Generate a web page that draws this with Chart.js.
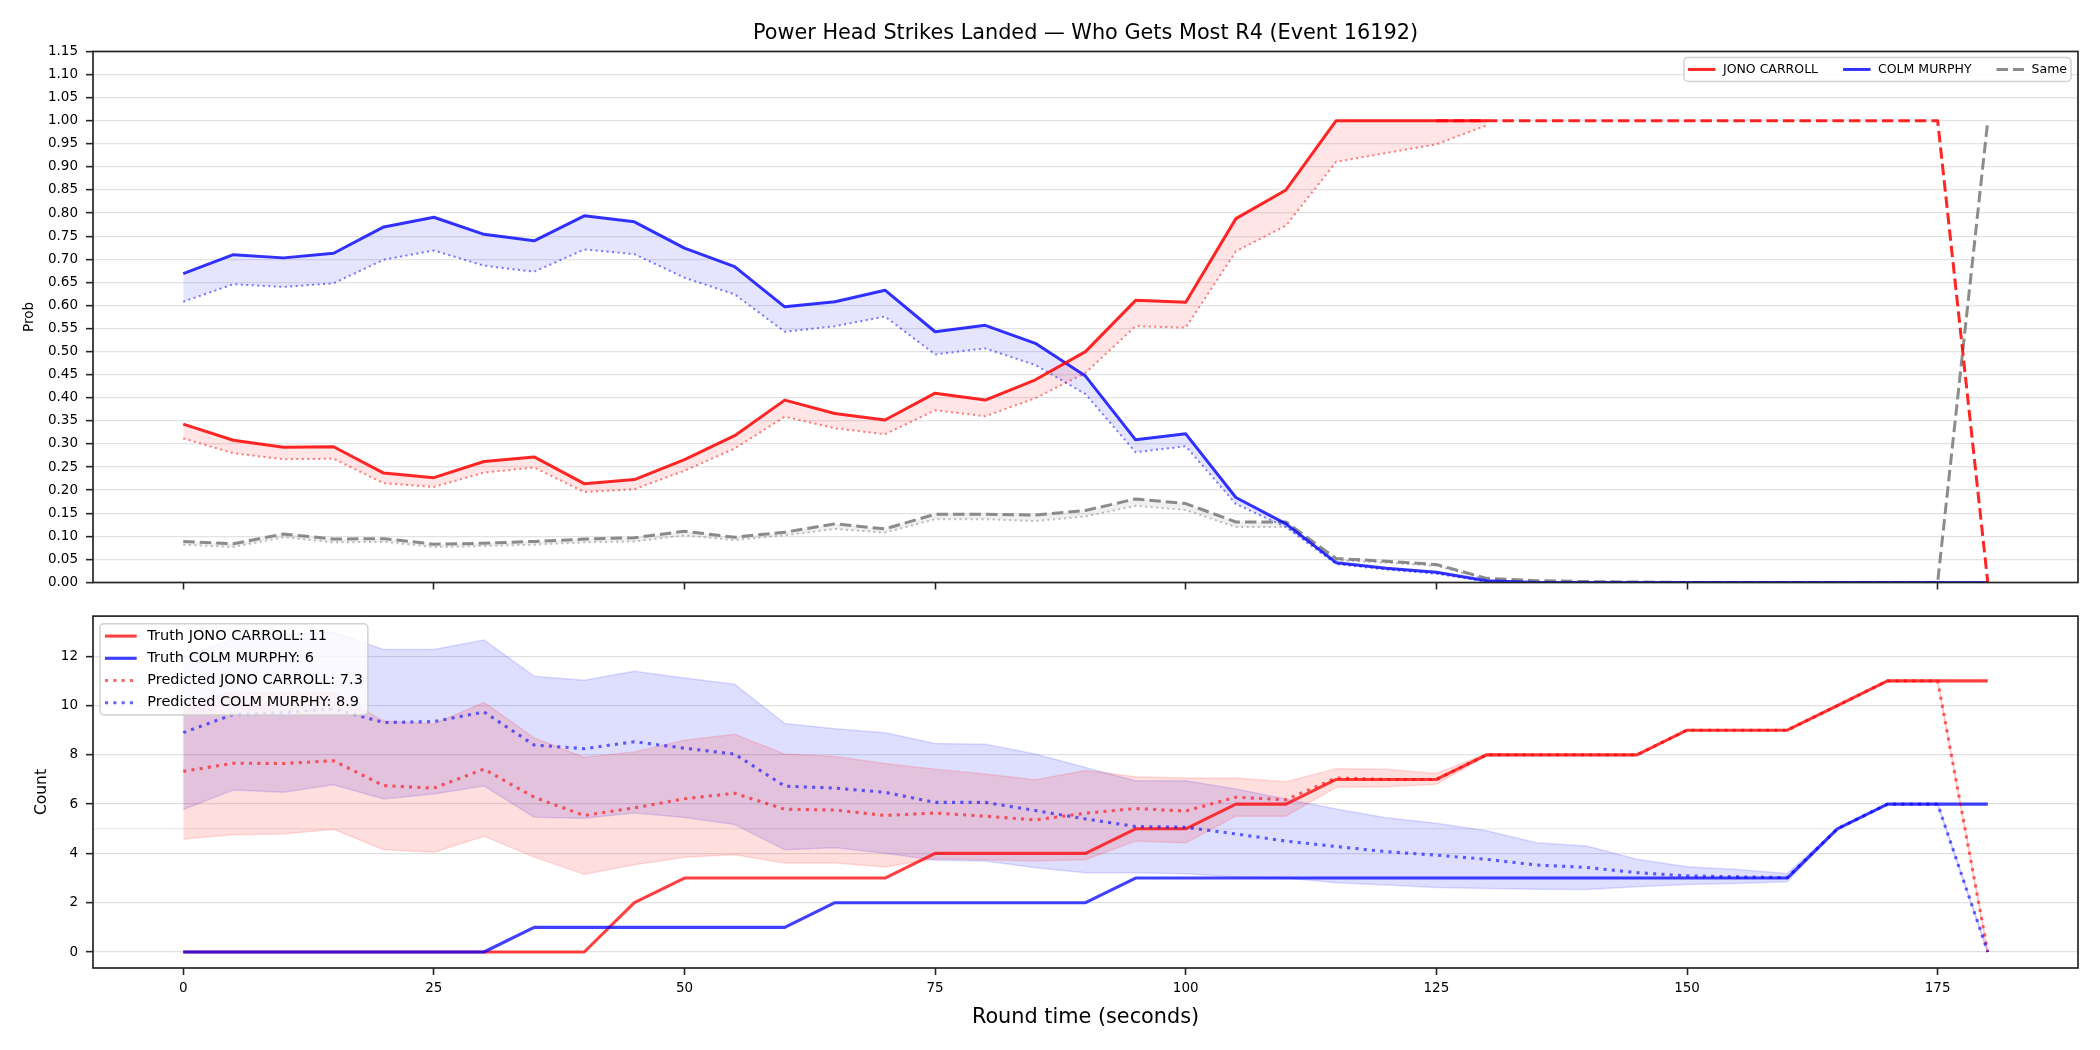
<!DOCTYPE html>
<html>
<head>
<meta charset="utf-8">
<script src="https://cdn.jsdelivr.net/npm/chart.js@4.4.1/dist/chart.umd.min.js"></script>
<style>
html,body{margin:0;padding:0;background:#fff;}
#wrap{position:relative;width:2100px;height:1050px;}
#top{position:absolute;left:0;top:0;}
#bot{position:absolute;left:0;top:600px;}
</style>
</head>
<body>
<div id="wrap">
<canvas id="top" width="2100" height="600"></canvas>
<canvas id="bot" width="2100" height="450"></canvas>
</div>
<script>
// ---- data ----
const times=[0,5,10,15,20,25,30,35,40,45,50,55,60,65,70,75,80,85,90,95,100,105,110,115,120,125,130,135,140,145,150,155,160,165,170,175,180];
const timeTicks=[0,25,50,75,100,125,150,175];
const players=['JONO CARROLL','COLM MURPHY'];

// top panel: probability of getting most R4 strikes
const probRed=[0.343,0.308,0.293,0.294,0.237,0.227,0.262,0.272,0.214,0.223,0.266,0.318,0.395,0.366,0.352,0.410,0.395,0.439,0.500,0.611,0.607,0.788,0.850,1.000,1.000,1.000,1.000];
const probRedLow=[0.312,0.280,0.267,0.268,0.215,0.207,0.238,0.249,0.196,0.202,0.242,0.290,0.359,0.334,0.321,0.373,0.360,0.399,0.454,0.555,0.552,0.717,0.773,0.911,0.930,0.949,0.990];
const lateFrom=125;
const probRedLate=[1,1,1,1,1,1,1,1,1,1,1,0];
const probBlue=[0.669,0.710,0.703,0.713,0.770,0.791,0.754,0.740,0.794,0.781,0.724,0.684,0.597,0.608,0.633,0.543,0.557,0.518,0.447,0.309,0.322,0.184,0.127,0.043,0.031,0.022,0.004,0,0,0,0,0,0,0,0,0,0];
const probBlueLow=[0.608,0.646,0.640,0.648,0.699,0.719,0.686,0.673,0.721,0.711,0.660,0.624,0.543,0.555,0.576,0.494,0.507,0.471,0.408,0.282,0.295,0.170,0.120,0.040,0.028,0.019,0.002,0,0,0,0,0,0,0,0,0,0];
const probSame=[0.089,0.084,0.105,0.094,0.095,0.083,0.085,0.089,0.094,0.097,0.111,0.098,0.109,0.127,0.116,0.148,0.148,0.146,0.156,0.181,0.171,0.131,0.131,0.052,0.046,0.039,0.009,0.004,0.002,0.001,0,0,0,0,0,0,1.0];
const probSameLow=[0.082,0.077,0.098,0.087,0.088,0.077,0.079,0.082,0.087,0.089,0.102,0.092,0.102,0.116,0.108,0.137,0.137,0.133,0.143,0.166,0.157,0.120,0.120,0.048,0.043,0.036,0.007];
const probTicks=[0,0.05,0.1,0.15,0.2,0.25,0.3,0.35,0.4,0.45,0.5,0.55,0.6,0.65,0.7,0.75,0.8,0.85,0.9,0.95,1,1.05,1.1,1.15];

// bottom panel: strike counts
const truthRed=[0,0,0,0,0,0,0,0,0,2,3,3,3,3,3,4,4,4,4,5,5,6,6,7,7,7,8,8,8,8,9,9,9,10,11,11,11];
const truthBlue=[0,0,0,0,0,0,0,1,1,1,1,1,1,2,2,2,2,2,2,3,3,3,3,3,3,3,3,3,3,3,3,3,3,5,6,6,6];
const predRed=[7.33,7.66,7.65,7.76,6.75,6.65,7.42,6.28,5.54,5.85,6.22,6.44,5.79,5.76,5.54,5.64,5.51,5.36,5.63,5.82,5.72,6.28,6.18,7.06,7.0,7.0,8,8,8,8,9,9,9,10,11,11,0];
const predBlue=[8.90,9.64,9.71,9.87,9.31,9.35,9.74,8.40,8.25,8.53,8.27,8.03,6.73,6.65,6.48,6.07,6.07,5.74,5.40,5.09,5.06,4.79,4.50,4.28,4.07,3.93,3.76,3.53,3.43,3.22,3.09,3.05,3.02,5,6,6,0];
const predRedLow=[4.59,4.76,4.79,4.98,4.15,4.05,4.70,3.85,3.15,3.54,3.84,3.95,3.61,3.61,3.45,3.78,3.74,3.69,3.74,4.50,4.42,5.51,5.51,6.68,6.70,6.81,7.95,8,8,8,9,9,9,10,11,11,0];
const predRedHigh=[10.05,10.57,10.50,10.52,9.37,9.25,10.13,8.69,7.90,8.12,8.59,8.84,8.03,7.93,7.65,7.42,7.22,6.99,7.36,7.11,7.06,7.06,6.91,7.44,7.42,7.24,8.05,8,8,8,9,9,9,10,11,11,0];
const predBlueLow=[5.78,6.57,6.48,6.79,6.21,6.41,6.74,5.47,5.43,5.64,5.46,5.17,4.15,4.23,4.01,3.72,3.69,3.42,3.22,3.22,3.18,3.04,3.00,2.81,2.72,2.62,2.58,2.55,2.54,2.65,2.74,2.78,2.85,5,6,6,0];
const predBlueHigh=[11.96,12.70,12.88,12.98,12.27,12.27,12.66,11.19,11.03,11.39,11.12,10.86,9.27,9.06,8.90,8.46,8.43,8.03,7.49,6.95,6.95,6.61,6.21,5.80,5.45,5.22,4.92,4.43,4.30,3.76,3.46,3.35,3.19,5,6,6,0];
const countTicks=[0,2,4,6,8,10,12];
const countRefLine=5;

// ---- helpers ----
const FONT='"DejaVu Sans", sans-serif';
Chart.defaults.font.family=FONT;
Chart.defaults.color='#000';

const pts=(arr,from=0)=>{
    const k=times.indexOf(from);
    return arr.map((v,i)=>({x:times[k+i],y:v}));
};
const xPad=(times[times.length-1]-times[0])*0.05;

const line=(data,color,width,dash,order,extra)=>Object.assign({
    data:data,borderColor:color,borderWidth:width,borderDash:dash||[],
    pointRadius:0,tension:0,fill:false,order:order,borderJoinStyle:'round'
},extra||{});

const mplExtras={
    id:'mplExtras',
    beforeDatasetsDraw(chart,args,opts){
        if(opts.refLine==null) return;
        const {ctx,chartArea:a,scales}=chart;
        const py=scales.y.getPixelForValue(opts.refLine);
        ctx.save();
        ctx.strokeStyle='rgba(0,0,0,0.07)';
        ctx.lineWidth=1.3;
        ctx.beginPath();ctx.moveTo(a.left,py);ctx.lineTo(a.right,py);ctx.stroke();
        ctx.restore();
    },
    afterDatasetsDraw(chart){
        const {ctx,chartArea:a}=chart;
        ctx.save();
        ctx.strokeStyle='#262626';
        ctx.lineWidth=1.7;
        ctx.strokeRect(a.left,a.top,a.right-a.left,a.bottom-a.top);
        ctx.restore();
    },
    afterDraw(chart,args,opts){
        const lg=opts.legend;
        if(!lg) return;
        const {ctx,chartArea:a}=chart;
        ctx.save();
        ctx.font=`${lg.size}px ${FONT}`;
        const tw=lg.items.map(it=>ctx.measureText(it.text).width);
        let bw,bh;
        if(lg.row==null){
            bw=lg.padX*2+lg.items.length*(lg.handle+lg.gap)+tw.reduce((s,v)=>s+v,0)+lg.colGap*(lg.items.length-1);
            bh=lg.padY*2;
        }else{
            bw=lg.padX*2+lg.handle+lg.gap+Math.max(...tw);
            bh=lg.padY*2+lg.row*(lg.items.length-1);
        }
        const bx=lg.corner==='ur'?a.right-lg.inset-bw:a.left+lg.inset;
        const by=a.top+lg.insetY;
        ctx.beginPath();
        ctx.roundRect(bx,by,bw,bh,4);
        ctx.fillStyle='rgba(255,255,255,0.8)';ctx.fill();
        ctx.strokeStyle='rgba(204,204,204,0.9)';ctx.lineWidth=1.5;ctx.stroke();
        let x=bx+lg.padX,y=by+lg.padY;
        lg.items.forEach((it,i)=>{
            const ds=chart.data.datasets[it.ds];
            ctx.strokeStyle=ds.borderColor;ctx.lineWidth=ds.borderWidth;
            ctx.setLineDash(ds.borderDash||[]);
            ctx.beginPath();ctx.moveTo(x,y);ctx.lineTo(x+lg.handle,y);ctx.stroke();
            ctx.setLineDash([]);
            ctx.fillStyle='#000';ctx.textAlign='left';ctx.textBaseline='middle';
            ctx.fillText(it.text,x+lg.handle+lg.gap,y);
            if(lg.row==null) x+=lg.handle+lg.gap+tw[i]+lg.colGap; else y+=lg.row;
        });
        ctx.restore();
    }
};

const xAxis=(showLabels,h,title)=>({
    type:'linear',min:times[0]-xPad,max:times[times.length-1]+xPad,
    afterBuildTicks:s=>{s.ticks=timeTicks.map(v=>({value:v}));},
    afterFit:s=>{s.height=h;},
    grid:{drawOnChartArea:false,drawTicks:true,tickLength:7,tickColor:'#262626',tickWidth:1.6},
    border:{display:false},
    ticks:{display:showLabels,autoSkip:false,maxRotation:0,padding:5,font:{size:13.5},color:'#000'},
    title:title||{display:false}
});

// ---- top chart ----
const topDs=[
    line(pts(probRed),'rgba(255,0,0,0.85)',3,null,1),
    line(pts(probRedLate,lateFrom),'rgba(255,0,0,0.85)',3,[11.5,5],1),
    line(pts(probBlue),'rgba(0,0,255,0.8)',3,null,1),
    line(pts(probSame),'rgba(128,128,128,0.9)',3,[11.5,5],1),
    line(pts(probRedLow),'rgba(255,0,0,0.5)',2,[2.1,3.4],2,{fill:{target:0},backgroundColor:'rgba(255,0,0,0.1)'}),
    line(pts(probBlueLow),'rgba(0,0,255,0.5)',2,[2.1,3.4],2,{fill:{target:2},backgroundColor:'rgba(0,0,255,0.1)'}),
    line(pts(probSameLow),'rgba(128,128,128,0.5)',2,[2.1,3.4],2,{fill:{target:3},backgroundColor:'rgba(128,128,128,0.12)'})
];

new Chart(document.getElementById('top'),{
    type:'line',
    data:{datasets:topDs},
    plugins:[mplExtras],
    options:{
        responsive:false,animation:false,
        layout:{padding:{left:0,right:22,top:0,bottom:0}},
        scales:{
            x:xAxis(false,17.5),
            y:{
                type:'linear',min:0,max:1.15,
                afterBuildTicks:s=>{s.ticks=probTicks.map(v=>({value:v}));},
                afterFit:s=>{s.width=93;},
                grid:{color:'rgba(0,0,0,0.11)',lineWidth:1.3,tickLength:7,tickColor:'#262626',tickWidth:1.6},
                border:{display:false},
                ticks:{autoSkip:false,padding:8,font:{size:13.5},color:'#000',callback:v=>Number(v).toFixed(2)},
                title:{display:true,text:'Prob',font:{size:13.5},color:'#000',padding:{top:21,bottom:0}}
            }
        },
        plugins:{
            legend:{display:false},
            tooltip:{enabled:false},
            title:{display:true,fullSize:false,text:'Power Head Strikes Landed \u2014 Who Gets Most R4 (Event 16192)',
                font:{size:20.8,weight:'normal'},color:'#000',padding:{top:21,bottom:5.5}},
            mplExtras:{
                legend:{corner:'ur',inset:7,insetY:6,size:12.5,padX:4,padY:12,handle:27.5,gap:7.5,colGap:25,
                    items:[{text:players[0],ds:0},{text:players[1],ds:2},{text:'Same',ds:3}]}
            }
        }
    }
});

// ---- bottom chart ----
const allCounts=[...truthRed,...truthBlue,...predRed,...predBlue,...predRedLow,...predRedHigh,...predBlueLow,...predBlueHigh];
const cMin=Math.min(...allCounts),cMax=Math.max(...allCounts);
const cPad=(cMax-cMin)*0.05;
const fmt=v=>String(Math.round(v*10)/10);

const botDs=[
    line(pts(truthRed),'rgba(255,0,0,0.75)',3.1,null,4),
    line(pts(truthBlue),'rgba(0,0,255,0.75)',3.1,null,3),
    line(pts(predRed),'rgba(255,0,0,0.6)',3.1,[3.1,5.2],2),
    line(pts(predBlue),'rgba(0,0,255,0.6)',3.1,[3.1,5.2],1),
    line(pts(predRedLow),'rgba(255,0,0,0.13)',1.5,null,5),
    line(pts(predRedHigh),'rgba(255,0,0,0.13)',1.5,null,5,{fill:{target:4},backgroundColor:'rgba(255,0,0,0.13)'}),
    line(pts(predBlueLow),'rgba(0,0,255,0.13)',1.5,null,6),
    line(pts(predBlueHigh),'rgba(0,0,255,0.13)',1.5,null,6,{fill:{target:6},backgroundColor:'rgba(0,0,255,0.13)'})
];

new Chart(document.getElementById('bot'),{
    type:'line',
    data:{datasets:botDs},
    plugins:[mplExtras],
    options:{
        responsive:false,animation:false,
        layout:{padding:{left:0,right:22,top:13.5,bottom:0}},
        scales:{
            x:xAxis(true,82,{display:true,text:'Round time (seconds)',font:{size:20.8},color:'#000',padding:{top:0,bottom:20}}),
            y:{
                type:'linear',min:cMin-cPad,max:cMax+cPad,
                afterBuildTicks:s=>{s.ticks=countTicks.map(v=>({value:v}));},
                afterFit:s=>{s.width=93;},
                grid:{color:'rgba(0,0,0,0.12)',lineWidth:1.3,tickLength:7,tickColor:'#262626',tickWidth:1.6},
                border:{display:false},
                ticks:{autoSkip:false,padding:8,font:{size:13.5},color:'#000'},
                title:{display:true,text:'Count',font:{size:15.5},color:'#000',padding:{top:33,bottom:0}}
            }
        },
        plugins:{
            legend:{display:false},
            tooltip:{enabled:false},
            mplExtras:{
                refLine:countRefLine,
                legend:{corner:'ul',inset:7,insetY:7.7,size:14.5,padX:5,padY:12.3,row:22.2,handle:31.7,gap:10.6,
                    items:[
                        {text:`Truth ${players[0]}: ${fmt(truthRed[truthRed.length-1])}`,ds:0},
                        {text:`Truth ${players[1]}: ${fmt(truthBlue[truthBlue.length-1])}`,ds:1},
                        {text:`Predicted ${players[0]}: ${fmt(predRed[0])}`,ds:2},
                        {text:`Predicted ${players[1]}: ${fmt(predBlue[0])}`,ds:3}
                    ]}
            }
        }
    }
});
</script>
</body>
</html>
